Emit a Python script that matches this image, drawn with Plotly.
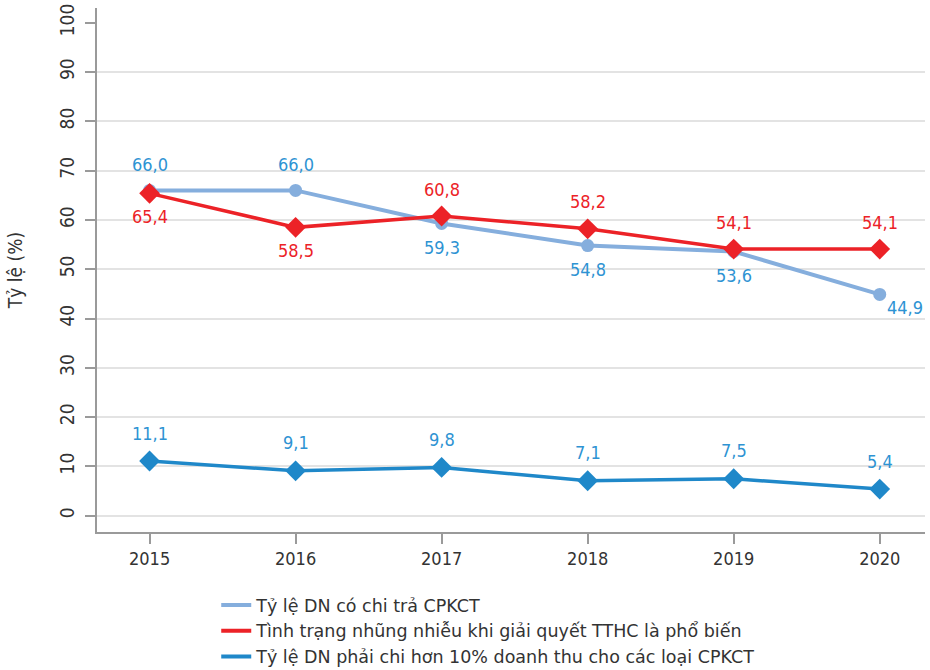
import plotly.graph_objects as go

years = [2015, 2016, 2017, 2018, 2019, 2020]
names = [
    "Tỷ lệ DN có chi trả CPKCT",
    "Tình trạng nhũng nhiễu khi giải quyết TTHC là phổ biến",
    "Tỷ lệ DN phải chi hơn 10% doanh thu cho các loại CPKCT",
]
s_paid = [66.0, 66.0, 59.3, 54.8, 53.6, 44.9]
s_harass = [65.4, 58.5, 60.8, 58.2, 54.1, 54.1]
s_over10 = [11.1, 9.1, 9.8, 7.1, 7.5, 5.4]
y_ticks = list(range(0, 101, 10))
y_grid = list(range(0, 91, 10))

# label placement: +1 above, -1 below
pos_paid = [1, 1, -1, -1, -1, -1]
pos_harass = [-1, -1, 1, 1, 1, 1]
pos_over10 = [1, 1, 1, 1, 1, 1]

c_light = "#85AEDD"
c_red = "#EC2227"
c_blue = "#1F88C9"
c_lbl_blue = "#2E93D3"

FONT = "DejaVu Sans Condensed, Liberation Sans Narrow, Roboto, sans-serif"
LEG_FONT = "DejaVu Sans, Roboto, sans-serif"

def fmt(v):
    return f"{v:.1f}".replace(".", ",")

fig = go.Figure()

fig.add_trace(go.Scatter(x=years, y=s_paid, mode="lines+markers",
                         line=dict(color=c_light, width=4),
                         marker=dict(symbol="circle", size=13, color=c_light),
                         showlegend=False, cliponaxis=False))
fig.add_trace(go.Scatter(x=years, y=s_harass, mode="lines+markers",
                         line=dict(color=c_red, width=3.5),
                         marker=dict(symbol="diamond", size=16, color=c_red),
                         showlegend=False, cliponaxis=False))
fig.add_trace(go.Scatter(x=years, y=s_over10, mode="lines+markers",
                         line=dict(color=c_blue, width=3.5),
                         marker=dict(symbol="diamond", size=16, color=c_blue),
                         showlegend=False, cliponaxis=False))

for nm, col in zip(names, [c_light, c_red, c_blue]):
    fig.add_trace(go.Scatter(x=[None], y=[None], mode="lines", name=nm,
                             line=dict(color=col, width=4)))

def add_labels(vals, poss, color, up, down, special=None):
    for i, (x, v, p) in enumerate(zip(years, vals, poss)):
        xs = 0
        ys = up if p > 0 else -down
        if special and i in special:
            xs, ys = special[i]
        fig.add_annotation(x=x, y=v, text=fmt(v), showarrow=False,
                           xshift=xs, yshift=ys,
                           font=dict(color=color, size=18, family=FONT))

add_labels(s_paid, pos_paid, c_lbl_blue, 26, 24, special={5: (25, -13)})
add_labels(s_harass, pos_harass, c_red, 27, 23)
add_labels(s_over10, pos_over10, c_lbl_blue, 28, 24)

fig.update_layout(
    width=930, height=670,
    margin=dict(l=97, r=5, t=8, b=138, autoexpand=False),
    plot_bgcolor="white", paper_bgcolor="white",
    font=dict(family=FONT, size=17, color="#333333"),
    legend=dict(x=0.144, y=-0.105, xanchor="left", yanchor="top",
                font=dict(size=17.5, color="#333333", family=LEG_FONT),
                tracegroupgap=0, itemwidth=30, bgcolor="rgba(0,0,0,0)"),
)
fig.update_xaxes(range=[2014.64, 2020.31], tickvals=years, automargin=False,
                 showgrid=False, showline=True, linecolor="#9A9A9A", linewidth=1.5,
                 ticks="outside", ticklen=10, tickcolor="#9A9A9A", tickwidth=1.5,
                 tickfont=dict(size=18), zeroline=False)
fig.update_yaxes(range=[-3.3, 103], tickvals=y_ticks,
                 tickangle=-90, automargin=False, ticklabelstandoff=4,
                 showgrid=False,
                 minor=dict(tickvals=y_grid, showgrid=True, gridcolor="#E3E3E3",
                            gridwidth=1.5, ticks=""),
                 showline=True, linecolor="#9A9A9A", linewidth=1.5,
                 ticks="outside", ticklen=10, tickcolor="#9A9A9A", tickwidth=1.5,
                 tickfont=dict(size=19), zeroline=False,
                 title=dict(text="Tỷ lệ (%)", font=dict(size=19), standoff=28))

fig.write_html("out.html", config={"displayModeBar": False},
               post_script="document.body.style.margin='0';")
